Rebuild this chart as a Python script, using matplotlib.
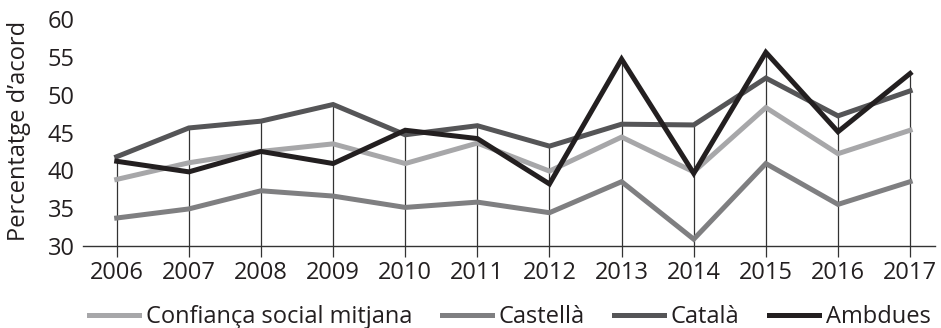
import matplotlib
matplotlib.use("Agg")
import matplotlib.pyplot as plt
import numpy as np

plt.rcParams['font.family'] = ['Open Sans', 'DejaVu Sans']

years = [2006, 2007, 2008, 2009, 2010, 2011, 2012, 2013, 2014, 2015, 2016, 2017]
confianca = [38.8, 41.0, 42.5, 43.5, 40.9, 43.6, 39.9, 44.4, 39.8, 48.3, 42.2, 45.3]
castella = [33.7, 34.9, 37.3, 36.6, 35.1, 35.8, 34.4, 38.5, 30.9, 40.9, 35.5, 38.5]
catala = [41.8, 45.6, 46.5, 48.7, 44.7, 45.9, 43.2, 46.1, 46.0, 52.2, 47.2, 50.5]
ambdues = [41.2, 39.8, 42.5, 40.9, 45.3, 44.2, 38.2, 54.7, 39.6, 55.6, 45.1, 52.8]

series = [
    ("Confiança social mitjana", confianca, "#a7a7a9"),
    ("Castellà", castella, "#7f7f81"),
    ("Català", catala, "#555557"),
    ("Ambdues", ambdues, "#231f20"),
]
yticks = [30, 35, 40, 45, 50, 55, 60]

FS = 17

fig = plt.figure(figsize=(9.41, 3.28), dpi=100)
ax = fig.add_axes([0.088, 0.25, 0.906, 0.692])

# drop lines from the axis up to the highest value of each year
tops = np.max(np.array([s[1] for s in series]), axis=0)
ax.vlines(years, 30, tops, color="#333333", lw=0.9, zorder=1)

for name, vals, col in series:
    ax.plot(years, vals, color=col, lw=3.6, label=name, zorder=2,
            solid_joinstyle="miter")

ax.set_xlim(2005.53, 2017.35)
ax.set_ylim(30, 60)
ax.set_xticks(years)
ax.set_yticks(yticks)
ax.tick_params(axis="x", direction="out", length=8, width=0.9, color="#333333",
               labelsize=FS, pad=3, labelcolor="#231f20")
ax.tick_params(axis="y", length=0, labelsize=FS, pad=6, labelcolor="#231f20")
for side in ("top", "right", "left"):
    ax.spines[side].set_visible(False)
ax.spines["bottom"].set_color("#333333")
ax.spines["bottom"].set_linewidth(1.0)

fig.text(19 / 941, 1 - 131 / 328, "Percentatge d’acord", rotation=90,
         ha="center", va="center", fontsize=FS, color="#231f20")

handles, labels = ax.get_legend_handles_labels()
leg = fig.legend(handles, labels, loc="center",
                 bbox_to_anchor=(0.542, 1 - 317 / 328), ncol=4,
                 frameon=False, fontsize=FS, handlelength=2.1,
                 handletextpad=0.3, columnspacing=1.25, borderaxespad=0,
                 borderpad=0)
for t in leg.get_texts():
    t.set_color("#231f20")

fig.savefig("out.png", dpi=100)
